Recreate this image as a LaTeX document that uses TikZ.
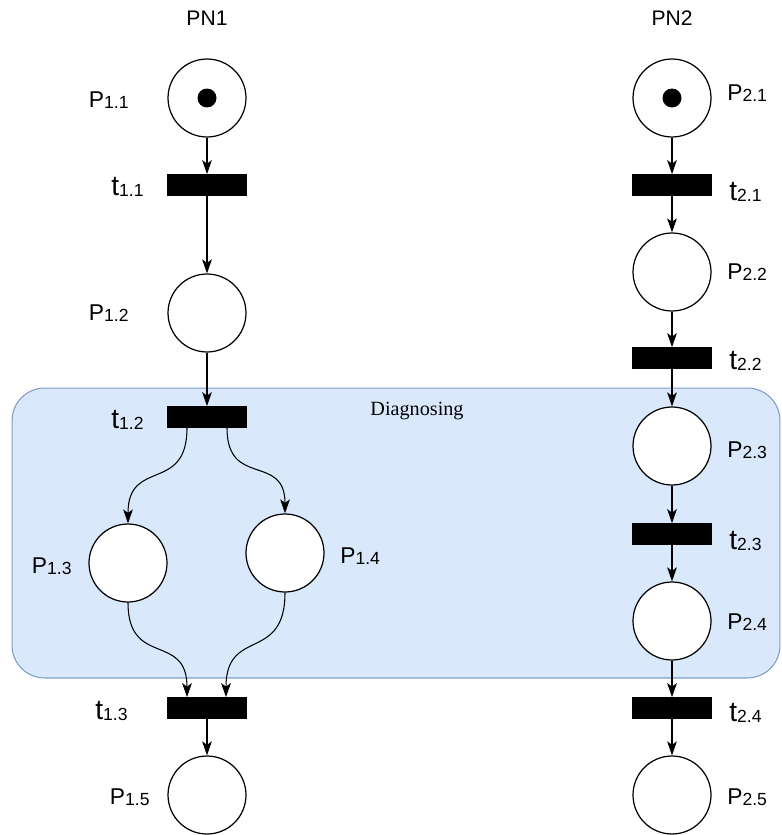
\documentclass[tikz,border=0pt]{standalone}
\usepackage{fontspec}
\setmainfont{Liberation Sans}
\newfontfamily\serifdiag{Liberation Serif}
\usetikzlibrary{arrows.meta,backgrounds}
\definecolor{boxfill}{HTML}{DAE8FC}
\definecolor{boxline}{HTML}{7F9CC4}
\tikzset{
 place/.style={circle,draw,fill=white,line width=0.7pt,minimum size=1.56cm,inner sep=0pt},
 trans/.style={rectangle,fill=black,draw=black,minimum width=1.58cm,minimum height=0.42cm,inner sep=0pt},
 token/.style={circle,fill=black,minimum size=0.38cm,inner sep=0pt},
 lbl/.style={font=\fontsize{12}{14}\selectfont,inner sep=0pt},
 arc/.style={-{Stealth[length=8pt,width=5.5pt,inset=2pt]},line width=0.6pt},
 region/.style={rectangle,rounded corners=0.65cm,fill=boxfill,draw=boxline,line width=0.6pt,minimum width=15.36cm,minimum height=5.8cm,inner sep=0pt},
}
\newcommand\pl[1]{{\fontsize{13}{13}\selectfont P}\raisebox{-0.6pt}{\fontsize{10}{10}\selectfont#1}}
\newcommand\tr[1]{{\fontsize{16}{16}\selectfont t}\raisebox{-0.6pt}{\fontsize{10}{10}\selectfont#1}}
\begin{document}
\begin{tikzpicture}[x=0.02cm,y=-0.02cm]
\useasboundingbox (0,0) rectangle (781,835);
% titles
\node[lbl] (pn1) at (207,18) {PN1};
\node[lbl] (pn2) at (672,18) {PN2};
% PN1
\node[place] (p11) at (207,98) {};
\node[token] (k11) at (p11) {};
\node[trans] (t11) at (207,185) {};
\node[place] (p12) at (207,313) {};
\node[trans] (t12) at (207,417) {};
\node[place] (p13) at (128,563) {};
\node[place] (p14) at (285,553) {};
\node[trans] (t13) at (207,708) {};
\node[place] (p15) at (207,795) {};
% PN2
\node[place] (p21) at (672,98) {};
\node[token] (k21) at (p21) {};
\node[trans] (t21) at (672,185) {};
\node[place] (p22) at (672,272) {};
\node[trans] (t22) at (672,358) {};
\node[place] (p23) at (672,446) {};
\node[trans] (t23) at (672,534) {};
\node[place] (p24) at (672,621) {};
\node[trans] (t24) at (672,708) {};
\node[place] (p25) at (672,795) {};
% region
\begin{scope}[on background layer]
\node[region] (diag) at (396,533) {};
\end{scope}
\node[font=\serifdiag\fontsize{11.5}{13}\selectfont,inner sep=0pt] (diaglbl) at (417,411) {Diagnosing};
% labels PN1
\node[lbl,anchor=east] (lp11) at (129,100) {\pl{1.1}};
\node[lbl,anchor=east] (lt11) at (144,187) {\tr{1.1}};
\node[lbl,anchor=east] (lp12) at (129,313) {\pl{1.2}};
\node[lbl,anchor=east] (lt12) at (144,420) {\tr{1.2}};
\node[lbl,anchor=east] (lp13) at (72,566) {\pl{1.3}};
\node[lbl,anchor=west] (lp14) at (340,556) {\pl{1.4}};
\node[lbl,anchor=east] (lt13) at (128,711) {\tr{1.3}};
\node[lbl,anchor=east] (lp15) at (150,797) {\pl{1.5}};
% labels PN2
\node[lbl,anchor=west] (lp21) at (727,93) {\pl{2.1}};
\node[lbl,anchor=west] (lt21) at (729,192) {\tr{2.1}};
\node[lbl,anchor=west] (lp22) at (727,272) {\pl{2.2}};
\node[lbl,anchor=west] (lt22) at (729,361) {\tr{2.2}};
\node[lbl,anchor=west] (lp23) at (727,450) {\pl{2.3}};
\node[lbl,anchor=west] (lt23) at (729,541) {\tr{2.3}};
\node[lbl,anchor=west] (lp24) at (727,622) {\pl{2.4}};
\node[lbl,anchor=west] (lt24) at (729,713) {\tr{2.4}};
\node[lbl,anchor=west] (lp25) at (727,797) {\pl{2.5}};
% arcs PN1
\draw[arc] (p11) -- (t11);
\draw[arc] (t11) -- (p12);
\draw[arc] (p12) -- (t12);
\draw[arc] ([xshift=-0.4cm]t12.south) to[out=-90,in=90,looseness=1.5] (p13.north);
\draw[arc] ([xshift=0.4cm]t12.south) to[out=-90,in=90,looseness=1.5] (p14.north);
\draw[arc] (p13.south) to[out=-90,in=90,looseness=1.5] ([xshift=-0.4cm]t13.north);
\draw[arc] (p14.south) to[out=-90,in=90,looseness=1.5] ([xshift=0.38cm]t13.north);
\draw[arc] (t13) -- (p15);
% arcs PN2
\draw[arc] (p21) -- (t21);
\draw[arc] (t21) -- (p22);
\draw[arc] (p22) -- (t22);
\draw[arc] (t22) -- (p23);
\draw[arc] (p23) -- (t23);
\draw[arc] (t23) -- (p24);
\draw[arc] (p24) -- (t24);
\draw[arc] (t24) -- (p25);
\end{tikzpicture}
\end{document}
